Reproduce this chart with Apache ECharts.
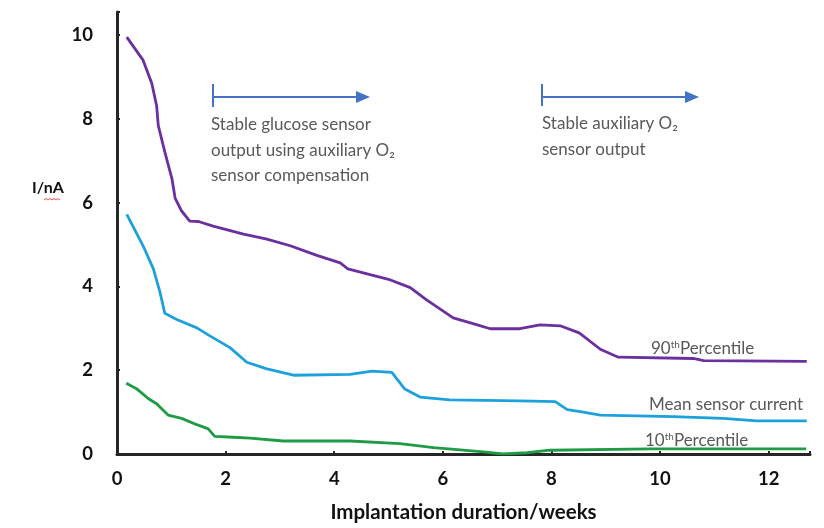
<!DOCTYPE html>
<html>
<head>
<meta charset="utf-8">
<script src="https://cdn.jsdelivr.net/npm/echarts@6/dist/echarts.min.js"></script>
<style>
html,body{margin:0;padding:0;background:#fff;}
#chart{width:824px;height:528px;}
</style>
</head>
<body>
<div id="chart"></div>
<script>
// ---- data ----
var xTicks = [0, 2, 4, 6, 8, 10, 12];
var yTicks = [0, 2, 4, 6, 8, 10];

var p90Weeks = [0.18,0.48,0.64,0.73,0.76,0.88,1.01,1.07,1.19,1.34,1.50,1.77,2.33,2.76,3.19,3.68,4.11,4.25,4.66,5.00,5.40,5.70,6.19,6.62,6.87,7.42,7.79,8.16,8.51,8.90,9.23,10.61,10.80,12.70];
var p90Current = [9.95,9.40,8.85,8.31,7.84,7.21,6.58,6.11,5.80,5.56,5.55,5.44,5.25,5.13,4.97,4.74,4.56,4.42,4.28,4.17,3.97,3.68,3.25,3.09,2.99,2.99,3.08,3.06,2.89,2.50,2.31,2.28,2.23,2.21];

var meanWeeks = [0.18,0.48,0.67,0.79,0.88,1.10,1.47,1.71,2.08,2.39,2.76,3.25,4.29,4.70,5.06,5.30,5.58,6.13,7.42,8.07,8.29,8.53,8.90,10.24,11.16,11.78,12.70];
var meanCurrent = [5.72,4.97,4.42,3.87,3.36,3.21,3.01,2.82,2.54,2.19,2.03,1.88,1.90,1.98,1.95,1.55,1.36,1.29,1.27,1.25,1.06,1.01,0.93,0.89,0.85,0.79,0.79];

var p10Weeks = [0.17,0.36,0.58,0.73,0.94,1.19,1.47,1.68,1.80,2.14,2.45,3.06,4.29,5.21,5.83,6.75,7.11,7.55,7.97,9.82,11.85,12.69];
var p10Current = [1.69,1.56,1.32,1.20,0.93,0.85,0.70,0.60,0.42,0.40,0.38,0.31,0.31,0.25,0.15,0.05,0.00,0.03,0.09,0.12,0.12,0.12];

var seriesNames = ['90thPercentile', 'Mean sensor current', '10thPercentile'];

function zip(xs, ys){ return xs.map(function(x,i){ return [x, ys[i]]; }); }

var chart = echarts.init(document.getElementById('chart'), null, {renderer:'canvas'});
var FONT = 'Lato, Carlito, "Liberation Sans", sans-serif';
var grey = '#595959';
var arrowBlue = '#4472C4';

function lineSeries(name, data, color){
  return {
    name: name, type: 'line', data: data, showSymbol: false, smooth: false,
    lineStyle: {color: color, width: 2.8}, itemStyle:{color: color},
    silent: true, z: 3
  };
}

var richLabel = {
  n:{fontFamily:FONT, fontSize:17, fill:grey},
  s:{fontFamily:FONT, fontSize:10, fill:grey, verticalAlign:'top', padding:[0,0,7,0]}
};

var option = {
  backgroundColor: '#fff',
  animation: false,
  grid: {left: 117, right: 14, top: 12, bottom: 70, containLabel: false},
  xAxis: {
    type: 'value', min: 0, max: 12.76, interval: 2,
    name: 'Implantation duration/weeks', nameLocation: 'middle', nameGap: 48,
    nameTextStyle: {fontFamily: FONT, fontWeight: 'bold', fontSize: 20.5, color: '#111'},
    axisLine: {show: true, lineStyle: {color: '#262626', width: 3}},
    axisTick: {show: true, inside: true, length: 3, lineStyle: {color: '#262626', width: 2}},
    splitLine: {show: false},
    axisLabel: {
      fontFamily: FONT, fontWeight: 'bold', fontSize: 18.5, color: '#111', margin: 16,
      formatter: function(v){ return xTicks.indexOf(v) >= 0 ? String(v) : ''; }
    }
  },
  yAxis: {
    type: 'value', min: 0, max: 10.55, interval: 2,
    axisLine: {show: true, lineStyle: {color: '#262626', width: 3}},
    axisTick: {show: true, inside: true, length: 3, lineStyle: {color: '#262626', width: 2}},
    splitLine: {show: false},
    axisLabel: {
      fontFamily: FONT, fontWeight: 'bold', fontSize: 18.5, color: '#111', margin: 24,
      formatter: function(v){ return yTicks.indexOf(v) >= 0 ? String(v) : ''; }
    }
  },
  series: [
    lineSeries(seriesNames[0], zip(p90Weeks, p90Current), '#6B2FA0'),
    lineSeries(seriesNames[1], zip(meanWeeks, meanCurrent), '#1DA1DC'),
    lineSeries(seriesNames[2], zip(p10Weeks, p10Current), '#1F9A45')
  ],
  graphic: [
    // y axis title
    {type:'text', left: 32, top: 180, style:{text:'I/nA', fontFamily: FONT, fontWeight:'bold', fontSize:16, fill:'#111'}},
    {type:'polyline', shape:{points:[[44,200],[46,198.5],[48,200],[50,198.5],[52,200],[54,198.5],[56,200],[58,198.5],[60,200]]}, style:{stroke:'#E05050', lineWidth:1, fill:null}},
    // arrow 1
    {type:'line', shape:{x1:213, y1:84, x2:213, y2:107}, style:{stroke: arrowBlue, lineWidth: 2}},
    {type:'line', shape:{x1:213, y1:97, x2:358, y2:97}, style:{stroke: arrowBlue, lineWidth: 2}},
    {type:'polygon', shape:{points:[[356,91],[370,97],[356,103]]}, style:{fill: arrowBlue}},
    // arrow 2
    {type:'line', shape:{x1:542, y1:84, x2:542, y2:106}, style:{stroke: arrowBlue, lineWidth: 2}},
    {type:'line', shape:{x1:542, y1:97, x2:687, y2:97}, style:{stroke: arrowBlue, lineWidth: 2}},
    {type:'polygon', shape:{points:[[685,91],[699,97],[685,103]]}, style:{fill: arrowBlue}},
    // annotation texts
    {type:'text', left: 211, top: 112, style:{text:'Stable glucose sensor\noutput using auxiliary O\u2082\nsensor compensation', fontFamily: FONT, fontSize: 17, lineHeight: 25.5, fill: grey}},
    {type:'text', left: 542, top: 111, style:{text:'Stable auxiliary O\u2082\nsensor output', fontFamily: FONT, fontSize: 17, lineHeight: 26, fill: grey}},
    // line labels
    {type:'text', left: 651, top: 340, style:{rich: richLabel, text:'{n|90}{s|th}{n|Percentile}'}},
    {type:'text', left: 649, top: 396, style:{text:'Mean sensor current', fontFamily: FONT, fontSize: 17, fill: grey}},
    {type:'text', left: 645, top: 432, style:{rich: richLabel, text:'{n|10}{s|th}{n|Percentile}'}}
  ]
};
chart.setOption(option);
</script>
</body>
</html>
